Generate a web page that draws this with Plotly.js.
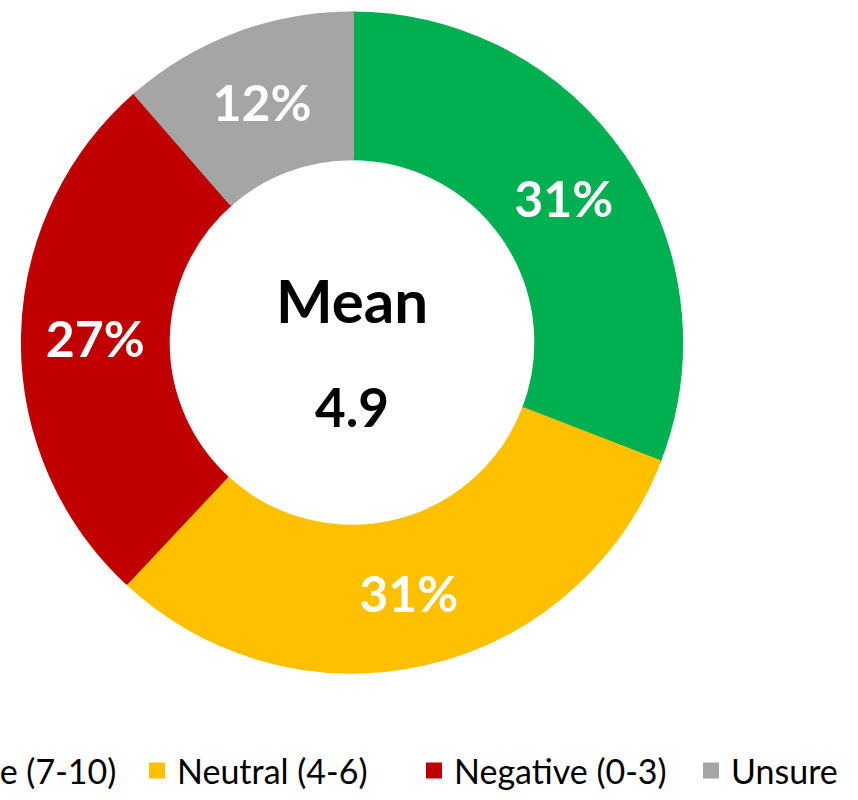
<!DOCTYPE html>
<html>
<head>
<meta charset="utf-8">
<script src="https://cdn.plot.ly/plotly-3.0.1.min.js"></script>
<style>
  html, body { margin: 0; padding: 0; width: 858px; height: 800px; overflow: hidden; background: #fff; }
  #chart { position: absolute; left: -300px; top: 0; width: 1300px; height: 800px; }
</style>
</head>
<body>
<div id="chart"></div>
<script>
// Data
const categories = ["Positive (7-10)", "Neutral (4-6)", "Negative (0-3)", "Unsure"];
const shares = [30.9, 31.1, 26.6, 11.4];
const shareLabels = ["31%", "31%", "27%", "12%"];
const meanLabel = "Mean";
const meanValue = "4.9";

const sliceColors = ["#00B050", "#FFC000", "#C00000", "#A5A5A5"];

const trace = {
  type: "pie",
  labels: categories,
  values: shares,
  text: shareLabels,
  textinfo: "text",
  texttemplate: "%{text}",
  textposition: "inside",
  insidetextorientation: "horizontal",
  insidetextfont: { family: "Lato", size: 50, color: "#FFFFFF", weight: "bold" },
  hole: 0.56,
  sort: false,
  direction: "clockwise",
  rotation: 0,
  marker: { colors: sliceColors, line: { width: 4, color: sliceColors } },
  domain: { x: [0.24615, 0.75692], y: [0.153125, 0.983125] },
  hoverinfo: "label+percent"
};

const layout = {
  width: 1300,
  height: 800,
  margin: { l: 0, r: 0, t: 0, b: 0 },
  paper_bgcolor: "#FFFFFF",
  showlegend: true,
  legend: {
    orientation: "h",
    x: 0.54923, xanchor: "center",
    y: 0.0275, yanchor: "middle",
    font: { family: "Lato", size: 34, color: "#000000" },
    entrywidth: 232,
    entrywidthmode: "pixels",
    traceorder: "normal"
  },
  annotations: [
    { text: meanLabel, xref: "paper", yref: "paper", x: 0.50154, y: 0.62125,
      showarrow: false, font: { family: "Lato", size: 60, color: "#000000", weight: "bold" } },
    { text: meanValue, xref: "paper", yref: "paper", x: 0.50154, y: 0.4875,
      showarrow: false, font: { family: "Lato", size: 53, color: "#000000", weight: "bold" } }
  ]
};

Plotly.newPlot("chart", [trace], layout, { displayModeBar: false, staticPlot: true });
</script>
</body>
</html>
